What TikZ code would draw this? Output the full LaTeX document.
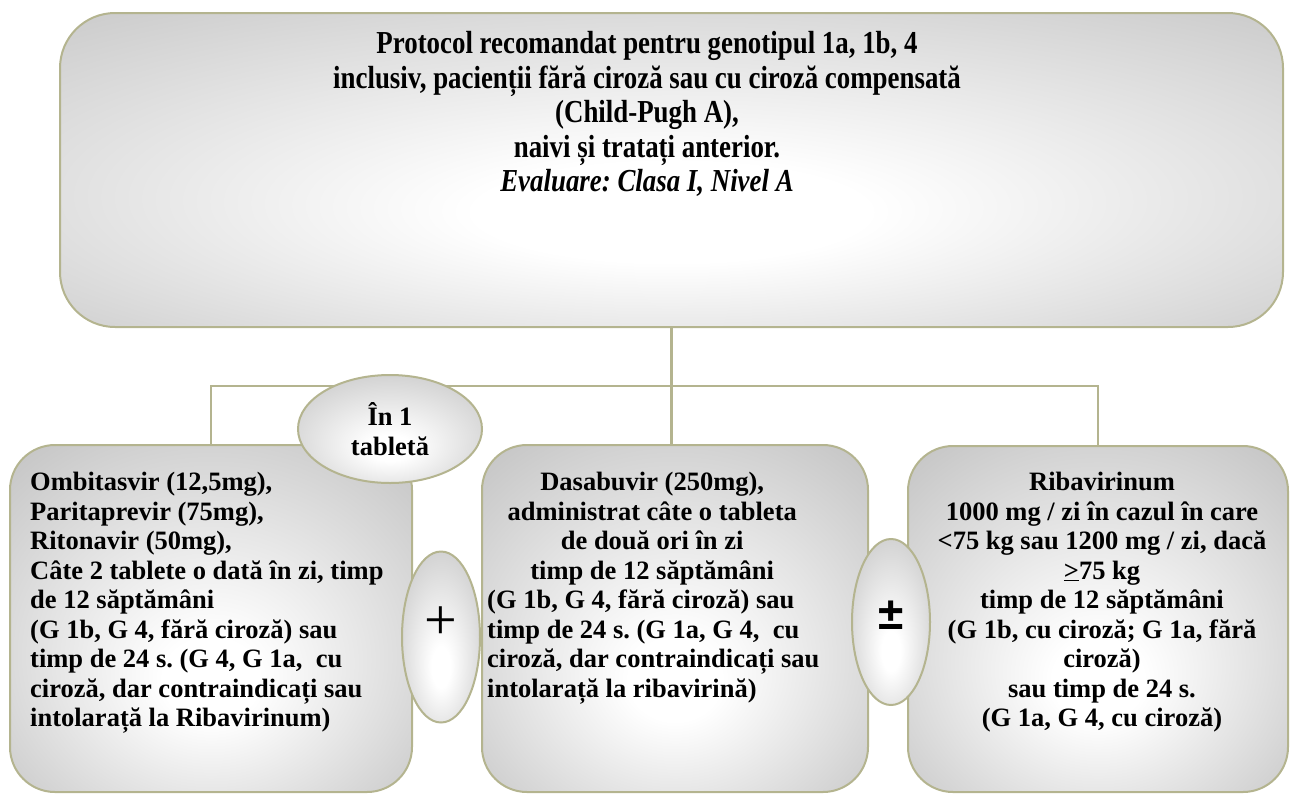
\documentclass[tikz,border=0pt]{standalone}
\usepackage{fontspec}
\setmainfont{Liberation Serif}
\newfontfamily\narrowserif[FakeStretch=0.84]{Liberation Serif}
\newfontfamily\signfont{Liberation Sans}
\usetikzlibrary{shapes.geometric}

\definecolor{rimolive}{RGB}{180,180,143}
\definecolor{glowgray}{RGB}{194,194,194}
\pgfdeclareradialshading{glow}{\pgfpoint{0bp}{-10bp}}{color(0bp)=(white);color(6bp)=(white);color(38bp)=(glowgray);color(50bp)=(glowgray)}
\pgfdeclareradialshading{topglow}{\pgfpoint{0bp}{-8bp}}{color(0bp)=(white);color(8bp)=(white);color(42bp)=(glowgray);color(50bp)=(glowgray)}

\tikzset{
  panel/.style={draw=rimolive, line width=2pt, rounded corners=45pt, shading=glow, inner sep=0pt},
  pill/.style={ellipse, draw=rimolive, line width=2pt, shading=glow, inner sep=0pt},
  link/.style={draw=rimolive, line width=2.5pt},
  body/.style={font=\fontsize{26.5}{29.5}\selectfont\bfseries, inner sep=0pt},
  headline/.style={font=\narrowserif\fontsize{32}{34.5}\selectfont\bfseries, inner sep=0pt, align=center},
}

\begin{document}
\frenchspacing
\begin{tikzpicture}[x=1pt,y=-1pt]
\useasboundingbox (0,0) rectangle (1291,796);

% boxes
\node[panel, rounded corners=55pt, shading=topglow, minimum width=1223pt, minimum height=314pt] (protocol) at (671.5,170) {};
\node[panel, minimum width=402pt, minimum height=347pt] (ombi) at (211,618.5) {};
\node[panel, minimum width=386pt, minimum height=347pt] (dasa) at (675,618.5) {};
\node[panel, minimum width=380pt, minimum height=346pt] (riba) at (1098,619) {};

% connectors
\draw[link] (protocol.south) -- (protocol.south |- dasa.north);
\draw[link] (ombi.north) -- ++(0,-58) -| (riba.north);

% ellipses
\node[pill, minimum width=184pt, minimum height=108pt] (tablet) at (390,429) {};
\node[pill, minimum width=78pt, minimum height=171pt] (plus) at (441,637) {};
\node[pill, minimum width=78pt, minimum height=166pt] (plusminus) at (891,622) {};

% texts
\node[headline] (protocoltxt) at (647,114) {Protocol recomandat pentru genotipul 1a, 1b, 4\\
  inclusiv, pacienții fără ciroză sau cu ciroză compensată\\
  (Child-Pugh A),\\
  naivi și tratați anterior.\\
  \textit{Evaluare: Clasa I, Nivel A}};
\node[body, align=center] (tablettxt) at (tablet) {În 1\\ tabletă};
\node[font=\fontsize{58}{58}\selectfont, inner sep=0pt] (plussign) at ([yshift=14pt]plus.center) {+};
\node[font=\signfont\fontsize{46}{46}\selectfont\bfseries, inner sep=0pt] (pmsign) at ([yshift=7pt]plusminus.center) {±};

\node[body, align=left, anchor=north west] (ombitxt) at (30,472) {Ombitasvir (12,5mg),\\
  Paritaprevir (75mg),\\
  Ritonavir (50mg),\\
  Câte 2 tablete o dată în zi, timp\\
  de 12 săptămâni\\
  (G 1b, G 4, fără ciroză) sau\\
  timp de 24 s. (G 4, G 1a, \ cu\\
  ciroză, dar contraindicați sau\\
  intolarață la Ribavirinum)};
\node[body, align=left, anchor=north west] (dasatxt) at (487,472) {\makebox[330pt][c]{Dasabuvir (250mg),}\\
  \makebox[330pt][c]{administrat câte o tableta}\\
  \makebox[330pt][c]{de două ori în zi}\\
  \makebox[330pt][c]{timp de 12 săptămâni}\\
  (G 1b, G 4, fără ciroză) sau\\
  timp de 24 s. (G 1a, G 4, \ cu\\
  ciroză, dar contraindicați sau\\
  intolarață la ribavirină)};
\node[body, align=center, anchor=north] (ribatxt) at (1102,472) {Ribavirinum\\
  1000 mg / zi în cazul în care\\
  <75 kg sau 1200 mg / zi, dacă\\
  \underline{>}75 kg\\
  timp de 12 săptămâni\\
  (G 1b, cu ciroză; G 1a, fără\\
  ciroză)\\
  sau timp de 24 s.\\
  (G 1a, G 4, cu ciroză)};
\end{tikzpicture}
\end{document}
